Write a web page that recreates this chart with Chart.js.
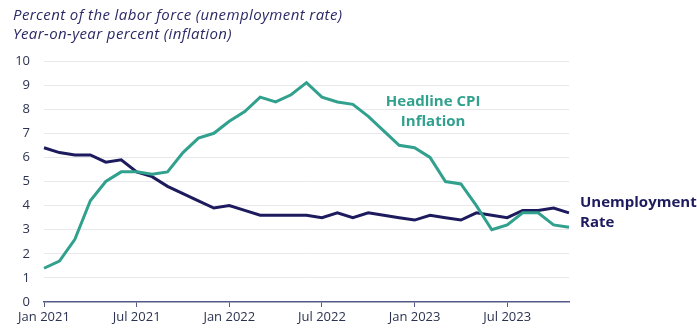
<!DOCTYPE html>
<html>
<head>
<meta charset="utf-8">
<script src="https://cdn.jsdelivr.net/npm/chart.js@4/dist/chart.umd.min.js"></script>
<style>
  html, body { margin: 0; padding: 0; background: #ffffff; }
  #wrap { position: relative; width: 697px; height: 331px; }
</style>
</head>
<body>
<div id="wrap"><canvas id="labourChart" width="697" height="331"></canvas></div>
<script>
// Monthly series, Jan 2021 - Nov 2023
const months = [
  'Jan 2021', 'Feb 2021', 'Mar 2021', 'Apr 2021', 'May 2021', 'Jun 2021',
  'Jul 2021', 'Aug 2021', 'Sep 2021', 'Oct 2021', 'Nov 2021', 'Dec 2021',
  'Jan 2022', 'Feb 2022', 'Mar 2022', 'Apr 2022', 'May 2022', 'Jun 2022',
  'Jul 2022', 'Aug 2022', 'Sep 2022', 'Oct 2022', 'Nov 2022', 'Dec 2022',
  'Jan 2023', 'Feb 2023', 'Mar 2023', 'Apr 2023', 'May 2023', 'Jun 2023',
  'Jul 2023', 'Aug 2023', 'Sep 2023', 'Oct 2023', 'Nov 2023'
];
const cpiInflation = [
  1.4, 1.7, 2.6, 4.2, 5.0, 5.4, 5.4, 5.3, 5.4, 6.2, 6.8, 7.0,
  7.5, 7.9, 8.5, 8.3, 8.6, 9.1, 8.5, 8.3, 8.2, 7.7, 7.1, 6.5,
  6.4, 6.0, 5.0, 4.9, 4.0, 3.0, 3.2, 3.7, 3.7, 3.2, 3.1
];
const unemploymentRate = [
  6.4, 6.2, 6.1, 6.1, 5.8, 5.9, 5.4, 5.2, 4.8, 4.5, 4.2, 3.9,
  4.0, 3.8, 3.6, 3.6, 3.6, 3.6, 3.5, 3.7, 3.5, 3.7, 3.6, 3.5,
  3.4, 3.6, 3.5, 3.4, 3.7, 3.6, 3.5, 3.8, 3.8, 3.9, 3.7
];
const yTicks = [0, 1, 2, 3, 4, 5, 6, 7, 8, 9, 10];
const subtitleLines = [
  'Percent of the labor force (unemployment rate)',
  'Year-on-year percent (inflation)'
];

const NAVY = '#1d1b5e';
const TEAL = '#31a18e';
const AXIS = '#55598a';
const FONT = '"Open Sans", "Noto Sans", sans-serif';

// Subtitle and series labels drawn on top of the chart
const textPlugin = {
  id: 'seriesText',
  afterDraw(chart) {
    const ctx = chart.ctx;
    const x = chart.scales.x;
    const y = chart.scales.y;
    ctx.save();
    ctx.textBaseline = 'middle';

    ctx.font = 'italic 15px ' + FONT;
    ctx.letterSpacing = '0.4px';
    ctx.fillStyle = '#2b2a66';
    ctx.textAlign = 'left';
    ctx.fillText(subtitleLines[0], 13, 16);
    ctx.fillText(subtitleLines[1], 13, 35);
    ctx.letterSpacing = '0px';

    ctx.font = 'bold 15px ' + FONT;
    ctx.fillStyle = TEAL;
    ctx.textAlign = 'center';
    const cx = x.getPixelForValue(25.2);
    ctx.fillText('Headline CPI', cx, y.getPixelForValue(8.3));
    ctx.fillText('Inflation', cx, y.getPixelForValue(7.5));

    ctx.fillStyle = NAVY;
    ctx.textAlign = 'left';
    const rx = chart.chartArea.right + 11;
    ctx.fillText('Unemployment', rx, y.getPixelForValue(4.1));
    ctx.fillText('Rate', rx, y.getPixelForValue(3.3));
    ctx.restore();
  }
};

new Chart(document.getElementById('labourChart'), {
  type: 'line',
  data: {
    labels: months,
    datasets: [
      {
        label: 'Headline CPI Inflation',
        data: cpiInflation,
        borderColor: TEAL,
        borderWidth: 3,
        pointRadius: 0,
        tension: 0
      },
      {
        label: 'Unemployment Rate',
        data: unemploymentRate,
        borderColor: NAVY,
        borderWidth: 3,
        pointRadius: 0,
        tension: 0
      }
    ]
  },
  options: {
    responsive: false,
    animation: false,
    devicePixelRatio: 1,
    layout: { padding: { top: 61, right: 128, left: 0, bottom: 0 } },
    plugins: {
      legend: { display: false },
      tooltip: { enabled: false }
    },
    scales: {
      x: {
        type: 'category',
        offset: false,
        border: { display: true, color: AXIS, width: 1.5 },
        grid: {
          drawOnChartArea: false,
          drawTicks: true,
          tickLength: 5,
          color: (c) => (c.index % 6 === 0 ? AXIS : 'rgba(0,0,0,0)')
        },
        ticks: {
          autoSkip: false,
          maxRotation: 0,
          padding: 2,
          color: '#2b3350',
          font: { family: FONT, size: 13 },
          callback: (v, i) => (i % 6 === 0 ? months[i] : '')
        },
        afterFit: (axis) => { axis.height = 29; }
      },
      y: {
        min: 0,
        max: 10,
        border: { display: false },
        grid: {
          drawTicks: false,
          color: (c) => (c.tick.value === 0 ? 'rgba(0,0,0,0)' : '#e8e8ec'),
          lineWidth: 1
        },
        afterBuildTicks: (axis) => { axis.ticks = yTicks.map((v) => ({ value: v })); },
        ticks: {
          padding: 14,
          color: '#2b3350',
          font: { family: FONT, size: 13 }
        },
        afterFit: (axis) => { axis.width = 44; }
      }
    }
  },
  plugins: [textPlugin]
});
</script>
</body>
</html>
